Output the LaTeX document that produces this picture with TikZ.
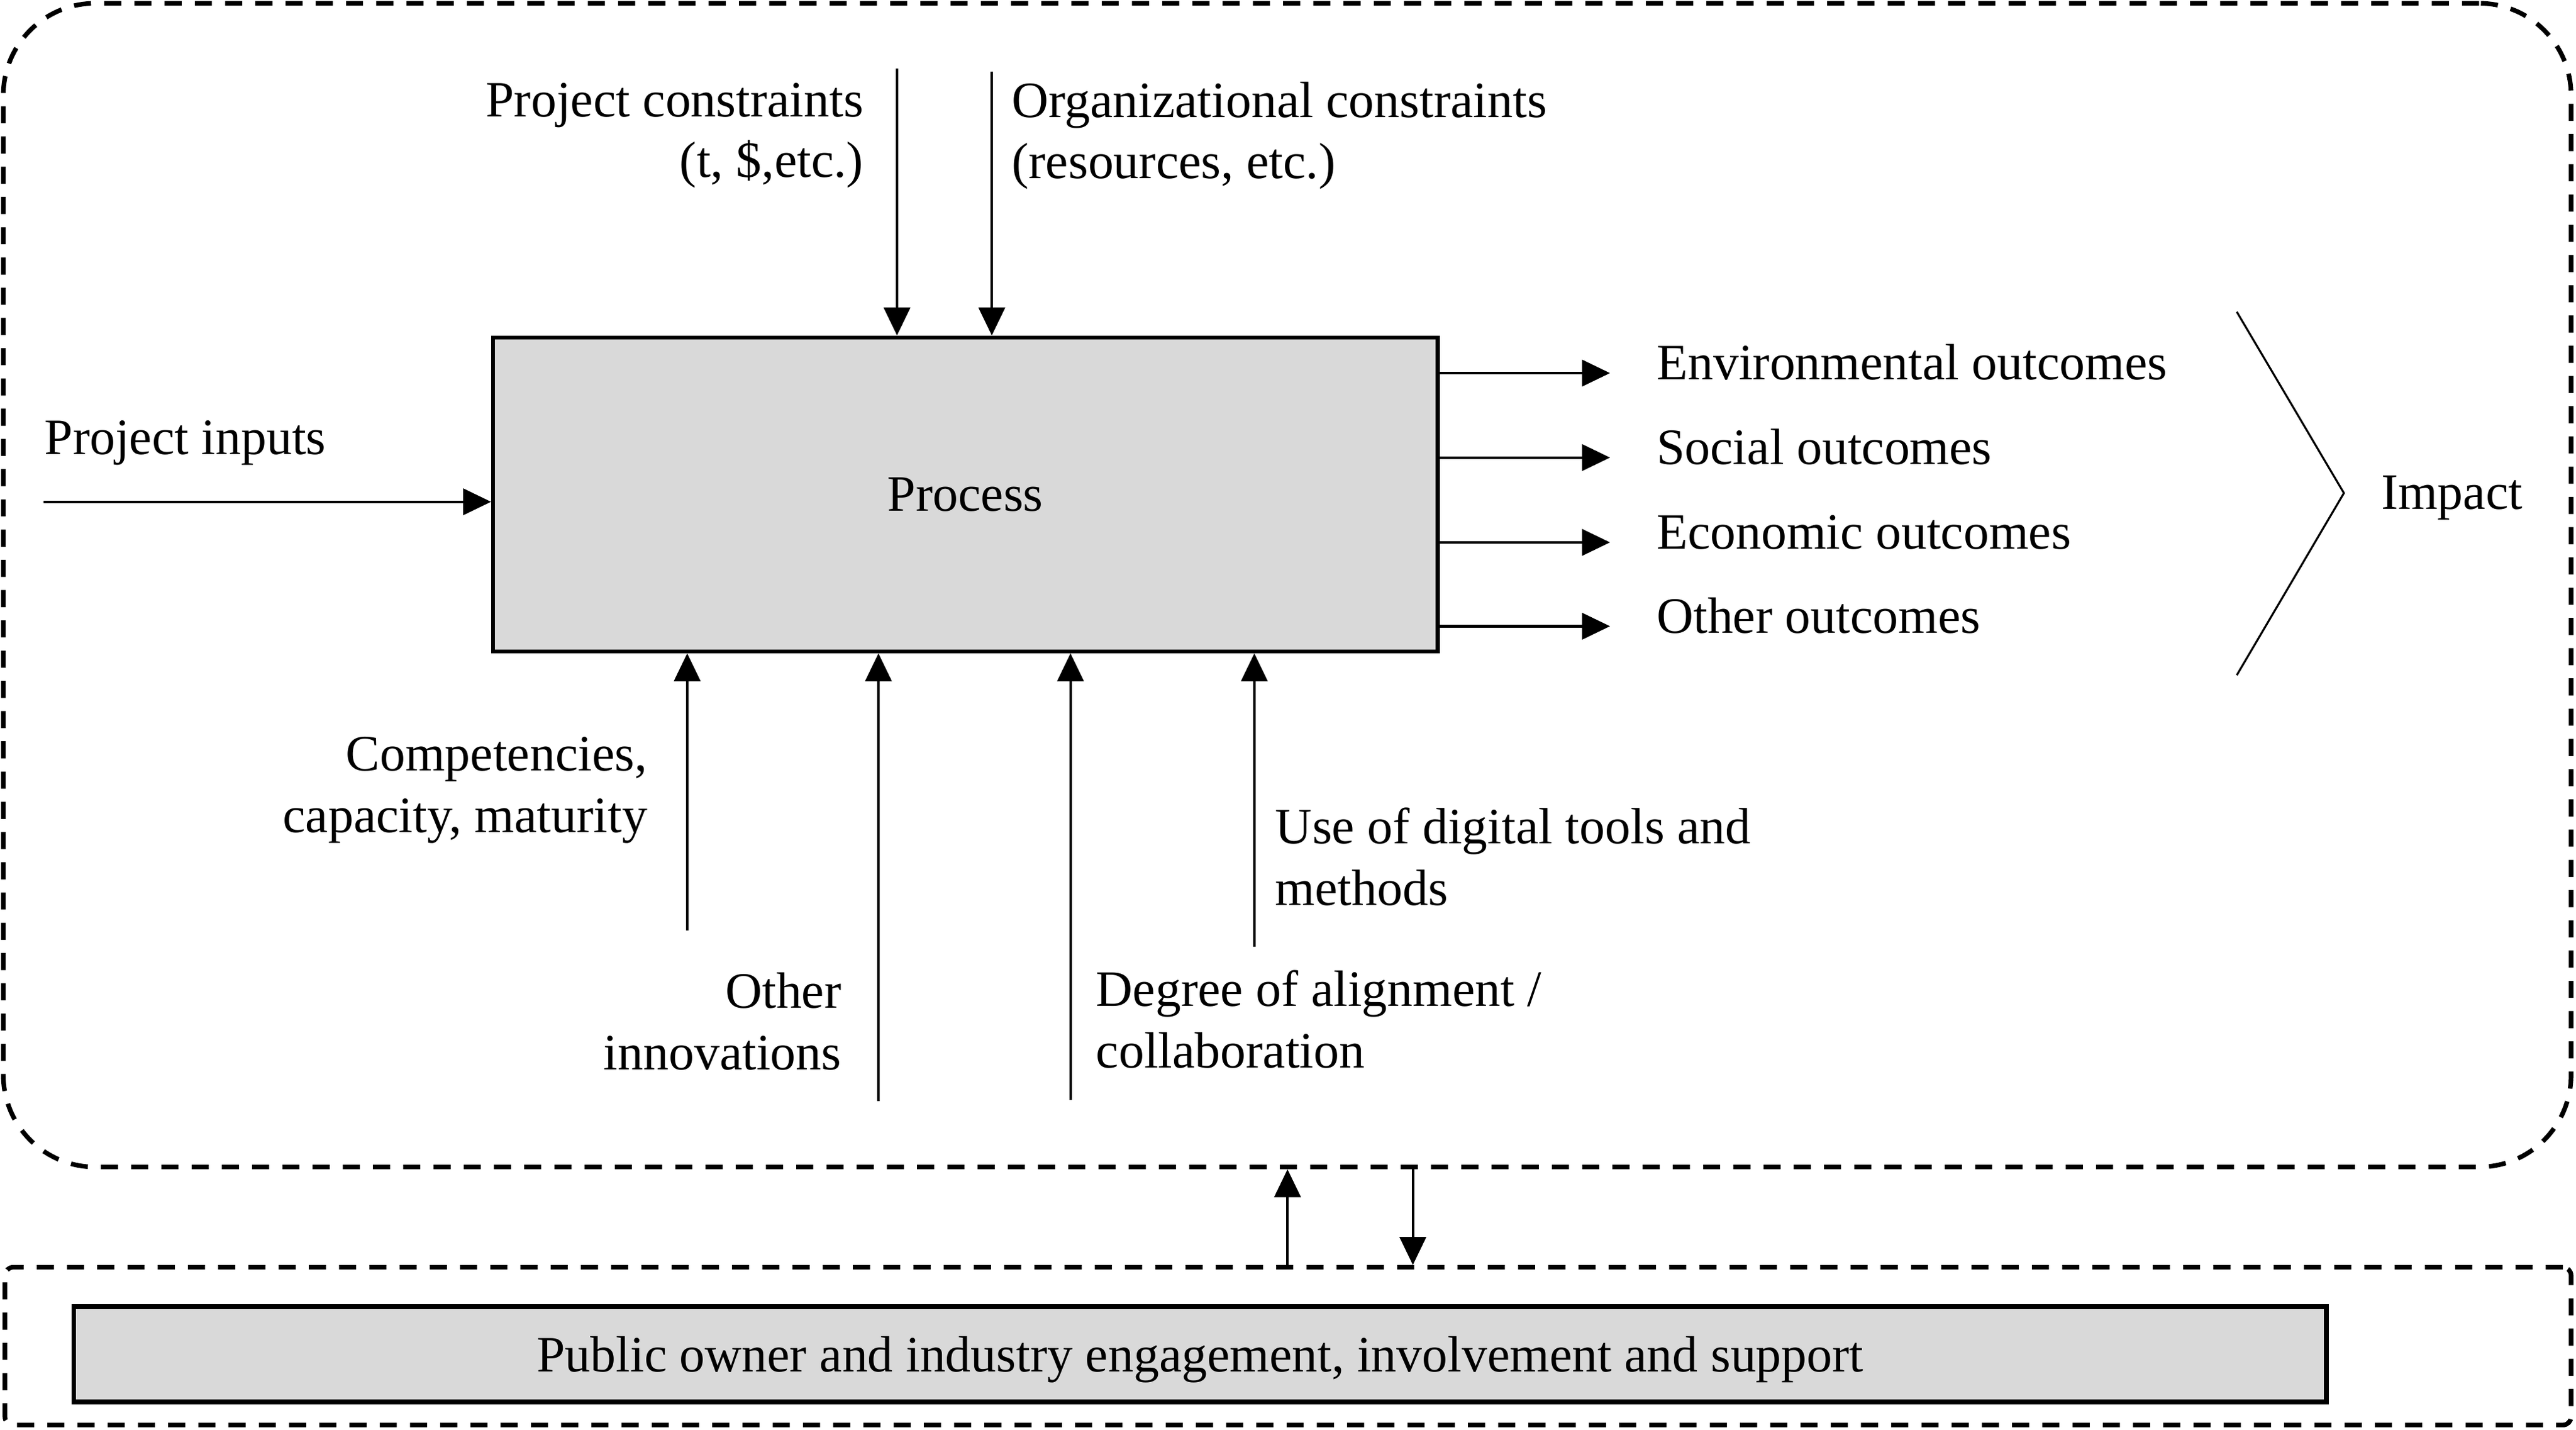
\documentclass[tikz,border=0pt]{standalone}
\usepackage{fontspec}
\setmainfont{Liberation Serif}
\usetikzlibrary{arrows.meta}
\begin{document}
\begin{tikzpicture}[x=0.5pt,y=-0.5pt,
  every node/.style={font=\fontsize{15.5}{18.5}\selectfont},
  arr/.style={line width=0.78pt,-{Triangle[length=8.5pt,width=8pt]}},
  dashbox/.style={draw,line width=1.4pt,dash pattern=on 5.2pt off 4pt,rectangle,inner sep=0pt},
  procbox/.style={draw,line width=1.2pt,fill=black!15,rectangle,inner sep=0pt,text depth=0pt},
  lbl/.style={inner sep=0pt,align=left}
]
\useasboundingbox (0,0) rectangle (1568,870);

% containers
\node[dashbox,rounded corners=28pt,minimum width=781.5pt,minimum height=354pt] (outer) at (783.5,356) {};
\node[dashbox,rounded corners=2.5pt,minimum width=781pt,minimum height=48pt] (lower) at (784,819) {};
\node[procbox,line width=1.4pt,minimum width=685.5pt,minimum height=29pt] (pub) at (730.5,824) {Public owner and industry engagement, involvement and support};

% process
\node[procbox,minimum width=287.5pt,minimum height=95.5pt] (proc) at (587.6,300.8) {Process};

% inputs
\node[lbl,anchor=base west] (inp) at (26.7,276.6) {Project inputs};
\coordinate (inpS) at (26.7,305.3);
\draw[arr] (inpS) -- (inpS -| proc.west);

% top constraints
\node[lbl,anchor=base east] (pc1) at (526,71) {Project constraints};
\node[lbl,anchor=base east] (pc2) at (526,108) {(t, \$,etc.)};
\node[lbl,anchor=base west] (oc1) at (615.5,71.5) {Organizational constraints};
\node[lbl,anchor=base west] (oc2) at (615.5,108.5) {(resources, etc.)};
\coordinate (pcS) at (546,41.8);
\coordinate (ocS) at (603.7,43.4);
\draw[arr] (pcS) -- (pcS |- proc.north);
\draw[arr] (ocS) -- (ocS |- proc.north);

% outcomes
\coordinate (t1) at (980,227);
\coordinate (t2) at (980,278.4);
\coordinate (t3) at (980,330);
\coordinate (t4) at (980,381);
\foreach \t in {t1,t2,t3,t4} \draw[arr] (\t -| proc.east) -- (\t);
\node[lbl,anchor=base west] (o1) at (1008,231) {Environmental outcomes};
\node[lbl,anchor=base west] (o2) at (1008,282.4) {Social outcomes};
\node[lbl,anchor=base west] (o3) at (1008,334) {Economic outcomes};
\node[lbl,anchor=base west] (o4) at (1008,385) {Other outcomes};

% impact chevron
\coordinate (chA) at (1361.5,189.7);
\coordinate (chB) at (1426.7,300);
\coordinate (chC) at (1361.5,410.8);
\draw[line width=0.6pt] (chA) -- (chB) -- (chC);
\node[lbl,anchor=base west] (imp) at (1449,309.6) {Impact};

% bottom inputs
\coordinate (b1) at (418.3,566);
\coordinate (b2) at (534.7,670);
\coordinate (b3) at (651.6,669);
\coordinate (b4) at (763.5,576);
\foreach \b in {b1,b2,b3,b4} \draw[arr] (\b) -- (\b |- proc.south);
\node[lbl,anchor=base east] (c1) at (394.4,468.9) {Competencies,};
\node[lbl,anchor=base east] (c2) at (394.4,506.6) {capacity, maturity};
\node[lbl,anchor=base east] (n1) at (512.5,613.3) {Other};
\node[lbl,anchor=base east] (n2) at (512.5,650.7) {innovations};
\node[lbl,anchor=base west] (d1) at (666.8,612) {Degree of alignment /};
\node[lbl,anchor=base west] (d2) at (666.8,649.7) {collaboration};
\node[lbl,anchor=base west] (u1) at (776,513.3) {Use of digital tools and};
\node[lbl,anchor=base west] (u2) at (776,550.7) {methods};

% links between containers
\coordinate (upX) at (783.7,0);
\coordinate (dnX) at (860,0);
\draw[arr] (upX |- lower.north) -- (upX |- outer.south);
\draw[arr] (dnX |- outer.south) -- (dnX |- lower.north);
\end{tikzpicture}
\end{document}
